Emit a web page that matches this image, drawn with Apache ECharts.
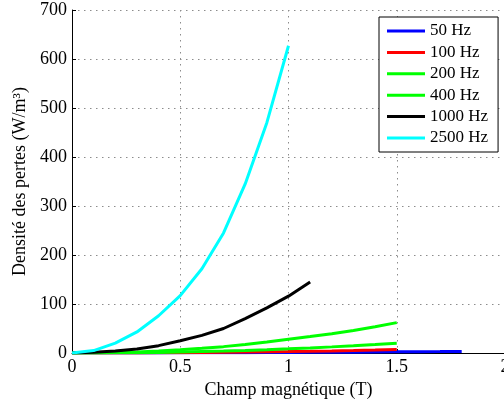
<!DOCTYPE html>
<html>
<head>
<meta charset="utf-8">
<script src="https://cdn.jsdelivr.net/npm/echarts@6/dist/echarts.min.js"></script>
<style>
html,body{margin:0;padding:0;background:#fff;}
#c{width:504px;height:401px;}
</style>
</head>
<body>
<div id="c"></div>
<script>
// Data
var xTicks = [0, 0.5, 1, 1.5, 2];
var seriesNames = ['50 Hz', '100 Hz', '200 Hz', '400 Hz', '1000 Hz', '2500 Hz'];

var x50 = [0,0.1,0.2,0.3,0.4,0.5,0.6,0.7,0.8,0.9,1.0,1.1,1.2,1.3,1.4,1.5,1.6,1.7,1.8];
var y50 = [0,0.01,0.04,0.1,0.17,0.27,0.38,0.52,0.68,0.86,1.06,1.28,1.52,1.78,2.05,2.35,2.65,2.95,3.3];

var x100 = [0,0.1,0.2,0.3,0.4,0.5,0.6,0.7,0.8,0.9,1.0,1.1,1.2,1.3,1.4,1.5];
var y100 = [0,0.03,0.1,0.25,0.45,0.7,1,1.4,1.85,2.35,2.9,3.5,4.2,5,5.9,7];

var x200 = [0,0.1,0.2,0.3,0.4,0.5,0.6,0.7,0.8,0.9,1.0,1.1,1.2,1.3,1.4,1.5];
var y200 = [0,0.1,0.3,0.7,1.2,2,3,4,5.3,6.8,8.5,10.3,12.5,14.8,17.3,20];

var x400 = [0,0.1,0.2,0.3,0.4,0.5,0.6,0.7,0.8,0.9,1.0,1.1,1.2,1.3,1.4,1.5];
var y400 = [0,0.3,1,2.2,4,6.5,9.5,13,17.5,22.5,28,33.5,39.5,46,53.5,62];

var x1000 = [0,0.1,0.2,0.3,0.4,0.5,0.6,0.7,0.8,0.9,1.0,1.1];
var y1000 = [0,1.5,4,8,15,25,36,50,70,92,116,145];

var x2500 = [0,0.1,0.2,0.3,0.4,0.5,0.6,0.7,0.8,0.9,1.0];
var y2500 = [0,5,20,43,76,117,172,245,345,470,627];

var colors = ['#0000ff', '#ff0000', '#00ff00', '#00ff00', '#000000', '#00ffff'];

function pairs(xs, ys) { return xs.map(function (x, i) { return [x, ys[i]]; }); }
var allData = [pairs(x50, y50), pairs(x100, y100), pairs(x200, y200), pairs(x400, y400), pairs(x1000, y1000), pairs(x2500, y2500)];

var FONT = 'Liberation Serif';
var chart = echarts.init(document.getElementById('c'), null, {renderer: 'canvas'});

var series = seriesNames.map(function (n, i) {
  return {
    name: n,
    type: 'line',
    data: allData[i],
    showSymbol: false,
    symbol: 'none',
    smooth: false,
    lineStyle: {color: colors[i], width: 3},
    itemStyle: {color: colors[i]},
    animation: false
  };
});

var tickRich = {t: {fontFamily: FONT, fontSize: 18, color: '#000'}};

chart.setOption({
  animation: false,
  backgroundColor: '#ffffff',
  textStyle: {fontFamily: FONT, color: '#000'},
  grid: {left: 72, top: 10, width: 433, height: 343, containLabel: false, outerBoundsMode: 'none'},
  legend: {
    data: seriesNames,
    orient: 'vertical',
    left: 379,
    top: 17,
    align: 'left',
    backgroundColor: '#ffffff',
    borderColor: '#000000',
    borderWidth: 1,
    borderRadius: 0,
    padding: [5, 10, 5, 8],
    itemWidth: 38,
    itemHeight: 3,
    itemGap: 3.4,
    icon: 'rect',
    textStyle: {fontFamily: FONT, fontSize: 17, color: '#000', lineHeight: 18}
  },
  xAxis: {
    type: 'value',
    min: 0,
    max: 2,
    interval: 0.5,
    name: 'Champ magnétique (T)',
    nameLocation: 'middle',
    nameGap: 22,
    nameTextStyle: {fontFamily: FONT, fontSize: 18, color: '#000'},
    axisLine: {show: true, onZero: false, lineStyle: {color: '#000', width: 1}},
    axisTick: {show: true, inside: true, length: 4, lineStyle: {color: '#000'}},
    axisLabel: {
      fontFamily: FONT, fontSize: 18, color: '#000', margin: 5,
      hideOverlap: false,
      rich: tickRich,
      formatter: function (v) { return xTicks.indexOf(v) >= 0 ? '{t|' + v + '}' : ''; }
    },
    splitLine: {show: true, lineStyle: {color: '#8c8c8c', width: 1, type: [1.5, 4.5]}}
  },
  yAxis: {
    type: 'value',
    min: 0,
    max: 700,
    interval: 100,
    name: 'Densité des pertes (W/m³)',
    nameLocation: 'middle',
    nameGap: 41,
    nameRotate: 90,
    nameTextStyle: {fontFamily: FONT, fontSize: 18, color: '#000'},
    axisLine: {show: true, lineStyle: {color: '#000', width: 1}},
    axisTick: {show: true, inside: true, length: 4, lineStyle: {color: '#000'}},
    axisLabel: {
      fontFamily: FONT, fontSize: 18, color: '#000', margin: 5,
      rich: tickRich,
      formatter: function (v) { return '{t|' + v + '}'; }
    },
    splitLine: {show: true, lineStyle: {color: '#8c8c8c', width: 1, type: [1.5, 4.5]}}
  },
  series: series
});
</script>
</body>
</html>
